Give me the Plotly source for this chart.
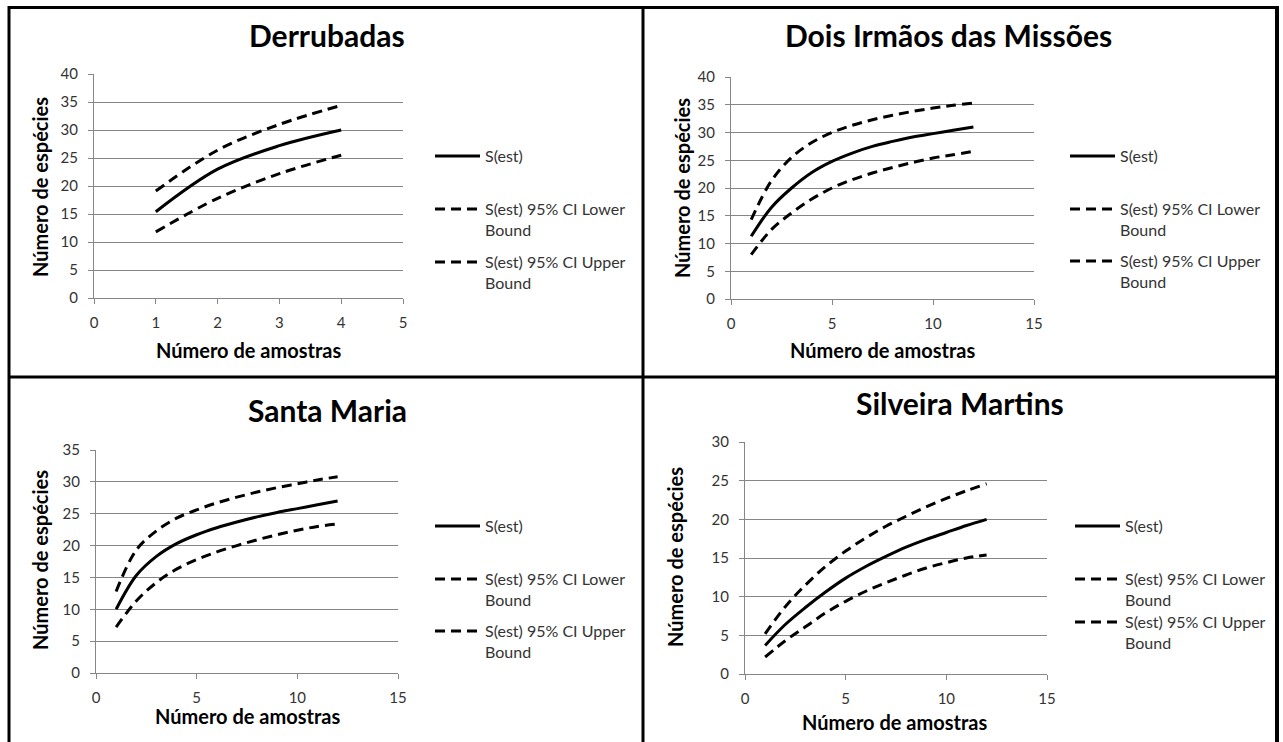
import plotly.graph_objects as go

W, H = 1283, 742

# ---------------- data ----------------
x_derr = [1, 2, 3, 4]
derr_s = [15.4, 23.0, 27.2, 30.0]
derr_lo = [11.8, 17.8, 22.2, 25.5]
derr_hi = [19.1, 26.4, 31.0, 34.4]

x_12 = [1, 2, 3, 4, 5, 6, 7, 8, 9, 10, 11, 12]
dois_s = [11.3, 16.5, 20.0, 22.8, 24.8, 26.3, 27.5, 28.4, 29.2, 29.8, 30.4, 31.0]
dois_lo = [8.0, 12.5, 15.5, 18.0, 20.0, 21.5, 22.7, 23.7, 24.6, 25.4, 26.0, 26.6]
dois_hi = [14.3, 21.3, 25.5, 28.2, 30.0, 31.3, 32.3, 33.1, 33.8, 34.4, 34.9, 35.3]

sm_s = [10.0, 15.3, 18.3, 20.3, 21.7, 22.8, 23.7, 24.5, 25.2, 25.8, 26.4, 27.0]
sm_lo = [7.2, 11.3, 14.2, 16.3, 17.8, 19.0, 20.0, 20.9, 21.7, 22.4, 23.0, 23.4]
sm_hi = [12.8, 19.3, 22.3, 24.3, 25.6, 26.7, 27.6, 28.4, 29.1, 29.7, 30.3, 30.8]

silv_s = [3.7, 6.4, 8.6, 10.6, 12.4, 13.9, 15.2, 16.4, 17.4, 18.3, 19.2, 20.0]
silv_lo = [2.2, 4.3, 6.1, 7.9, 9.4, 10.7, 11.8, 12.8, 13.7, 14.4, 15.0, 15.4]
silv_hi = [5.2, 8.7, 11.5, 13.9, 15.9, 17.6, 19.1, 20.4, 21.6, 22.7, 23.7, 24.6]

titles = ["Derrubadas", "Dois Irmãos das Missões", "Santa Maria", "Silveira Martins"]
series_names = ["S(est)", "S(est) 95% CI Lower<br>Bound", "S(est) 95% CI Upper<br>Bound"]
x_title = "Número de amostras"
y_title = "Número de espécies"

panels = [
    dict(x=x_derr, s=derr_s, lo=derr_lo, hi=derr_hi, xmax=5, xdt=1, ymax=40),
    dict(x=x_12, s=dois_s, lo=dois_lo, hi=dois_hi, xmax=15, xdt=5, ymax=40),
    dict(x=x_12, s=sm_s, lo=sm_lo, hi=sm_hi, xmax=15, xdt=5, ymax=35),
    dict(x=x_12, s=silv_s, lo=silv_lo, hi=silv_hi, xmax=15, xdt=5, ymax=30),
]

# ---------------- layout geometry (pixels) ----------------
plot_px = [  # left, right, top, bottom
    (94, 403, 74, 298),
    (731, 1034, 77, 299),
    (96, 398, 450, 673),
    (745, 1047, 442, 674),
]
title_px = [(327, 35), (948, 35), (327, 410), (960, 403)]
ytitle_px = [(40, 187), (682, 188), (40, 560), (675, 557)]
xtitle_px = [(248, 350), (882, 350), (247, 716), (895, 722)]
legend_px = [  # symbol start x, first-line center y for each of 3 entries
    (435, [157, 210, 263]),
    (1070, [157, 210, 262]),
    (435, [527, 580, 632]),
    (1075, [527, 580, 623]),
]

FONT = "Lato"
fig = go.Figure()

def px_x(v):
    return v / W

def px_y(v):
    return 1 - v / H

styles = [dict(color="black", width=3),
          dict(color="black", width=3, dash="10px,6px"),
          dict(color="black", width=3, dash="10px,6px")]

layout_upd = {}
annotations = []
leg_n = 0
for i, p in enumerate(panels):
    ax = "" if i == 0 else str(i + 1)
    l, r, t, b = plot_px[i]
    layout_upd["xaxis" + ax] = dict(
        domain=[px_x(l), px_x(r)], anchor="y" + ax, range=[0, p["xmax"]],
        dtick=p["xdt"], tick0=0, showgrid=False, zeroline=False,
        showline=True, linecolor="#868686", linewidth=1,
        ticks="outside", ticklen=5, tickcolor="#868686",
        tickfont=dict(family=FONT, size=15, color="#333"),
        ticklabelstandoff=6, fixedrange=True)
    layout_upd["yaxis" + ax] = dict(
        domain=[px_y(b), px_y(t)], anchor="x" + ax, range=[0, p["ymax"]],
        dtick=5, tick0=0, showgrid=True, gridcolor="#868686", gridwidth=1,
        zeroline=False, showline=True, linecolor="#868686", linewidth=1,
        ticks="outside", ticklen=5, tickcolor="#868686",
        tickfont=dict(family=FONT, size=15, color="#333"),
        ticklabelstandoff=7, fixedrange=True)
    ys = [p["s"], p["lo"], p["hi"]]
    sx, ly = legend_px[i]
    for k in range(3):
        leg_n += 1
        lname = "legend" if leg_n == 1 else "legend%d" % leg_n
        fig.add_trace(go.Scatter(
            x=p["x"], y=ys[k], mode="lines", line=dict(shape="spline", **styles[k]),
            name=series_names[k], xaxis="x" + ax, yaxis="y" + ax,
            legend=lname, showlegend=True))
        layout_upd[lname] = dict(
            x=px_x(sx - 5), y=px_y(ly[k] - 18), xanchor="left", yanchor="top",
            bgcolor="rgba(0,0,0,0)", borderwidth=0, valign="top", itemwidth=45,
            font=dict(family=FONT, size=16, color="#333"),
            itemclick=False, itemdoubleclick=False)
    annotations.append(dict(
        text=titles[i], x=px_x(title_px[i][0]), y=px_y(title_px[i][1]),
        xref="paper", yref="paper", xanchor="center", yanchor="middle",
        showarrow=False, font=dict(family=FONT, size=30, color="black", weight="bold")))
    annotations.append(dict(
        text=y_title, x=px_x(ytitle_px[i][0]), y=px_y(ytitle_px[i][1]),
        xref="paper", yref="paper", xanchor="center", yanchor="middle", textangle=-90,
        showarrow=False, font=dict(family=FONT, size=20, color="black", weight="bold")))
    annotations.append(dict(
        text=x_title, x=px_x(xtitle_px[i][0]), y=px_y(xtitle_px[i][1]),
        xref="paper", yref="paper", xanchor="center", yanchor="middle",
        showarrow=False, font=dict(family=FONT, size=20, color="black", weight="bold")))

# panel borders
shapes = []
def line(x0, y0, x1, y1, w):
    shapes.append(dict(type="line", xref="paper", yref="paper",
                       x0=px_x(x0), y0=px_y(y0), x1=px_x(x1), y1=px_y(y1),
                       line=dict(color="black", width=w)))
line(9, 7.5, 1277, 7.5, 3)      # top
line(9, 6, 9, 742, 3)           # left
line(1277, 6, 1277, 742, 4)     # right
line(643, 6, 643, 742, 3)       # middle vertical
line(9, 377, 1277, 377, 3)      # middle horizontal

fig.update_layout(
    width=W, height=H, autosize=False,
    margin=dict(l=0, r=0, t=0, b=0, autoexpand=False),
    paper_bgcolor="white", plot_bgcolor="white",
    annotations=annotations, shapes=shapes,
    font=dict(family=FONT),
    **layout_upd)

fig.write_html("out.html", config={"displayModeBar": False},
               post_script="document.body.style.margin='0';document.body.style.overflow='hidden';")
